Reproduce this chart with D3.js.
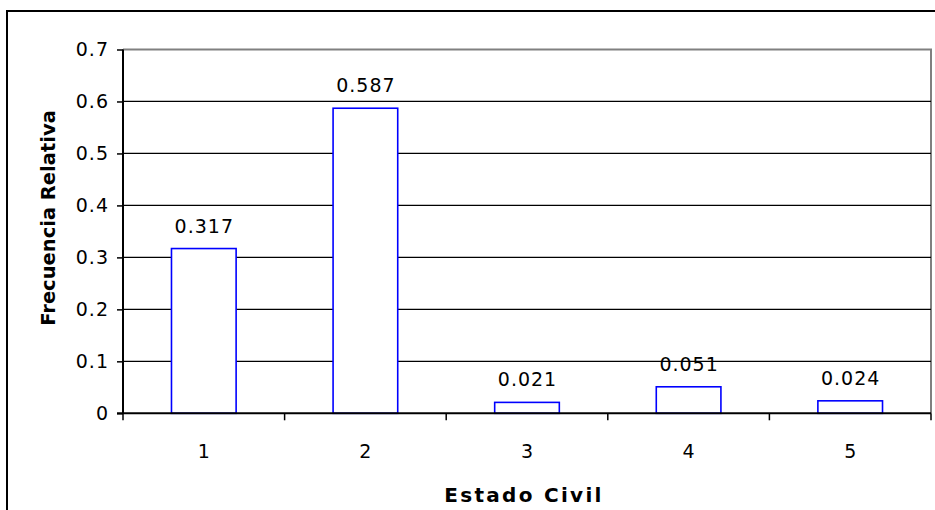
<!DOCTYPE html>
<html>
<head>
<meta charset="utf-8">
<script src="https://cdn.jsdelivr.net/npm/d3@7"></script>
<style>
  html, body { margin: 0; padding: 0; background: #fff; }
  svg { display: block; }
  text { font-family: "DejaVu Sans", Verdana, sans-serif; fill: #000; }
</style>
</head>
<body>
<svg id="chart" width="935" height="510"></svg>
<script>
const categories = ["1", "2", "3", "4", "5"];
const values = [0.317, 0.587, 0.021, 0.051, 0.024];
const valueLabels = ["0.317", "0.587", "0.021", "0.051", "0.024"];
const yTicks = [0, 0.1, 0.2, 0.3, 0.4, 0.5, 0.6, 0.7];
const yTickLabels = ["0", "0.1", "0.2", "0.3", "0.4", "0.5", "0.6", "0.7"];
const xTitle = "Estado Civil";
const yTitle = "Frecuencia Relativa";

(function () {
const svg = d3.select("#chart");
const pL = 123, pR = 931, pT = 49.5, pB = 413.3;

// outer chart border (extends past right/bottom edges)
svg.append("rect")
  .attr("x", 7).attr("y", 11)
  .attr("width", 940).attr("height", 510)
  .attr("fill", "#fff").attr("stroke", "#000").attr("stroke-width", 2);

const x = d3.scaleBand().domain(categories).range([pL, pR]).paddingInner(0).paddingOuter(0);
const y = d3.scaleLinear().domain([0, 0.7]).range([pB, pT]);

// plot area frame (gray top and right)
svg.append("path")
  .attr("d", `M${pL},${pT}H${pR}V${pB}`)
  .attr("fill", "none").attr("stroke", "#808080").attr("stroke-width", 2);

// gridlines
svg.append("g").selectAll("line")
  .data(yTicks.filter(t => t > 0 && t < 0.7))
  .join("line")
  .attr("x1", pL).attr("x2", pR)
  .attr("y1", d => y(d)).attr("y2", d => y(d))
  .attr("stroke", "#000").attr("stroke-width", 1.3);

// bars
const bw = x.bandwidth() * 0.4;
svg.append("g").selectAll("rect")
  .data(values)
  .join("rect")
  .attr("x", (d, i) => x(categories[i]) + x.bandwidth() / 2 - bw / 2)
  .attr("y", d => y(d))
  .attr("width", bw)
  .attr("height", d => y(0) - y(d))
  .attr("fill", "#fff")
  .attr("stroke", "#0000FF")
  .attr("stroke-width", 1.6);

// value labels
svg.append("g").selectAll("text")
  .data(values)
  .join("text")
  .attr("x", (d, i) => x(categories[i]) + x.bandwidth() / 2 + 0.5)
  .attr("y", d => y(d) - 16)
  .attr("text-anchor", "middle")
  .attr("font-size", 19)
  .attr("letter-spacing", 1)
  .text((d, i) => valueLabels[i]);

// y axis
const yAxis = d3.axisLeft(y).tickValues(yTicks)
  .tickFormat((d, i) => yTickLabels[i]).tickSize(6).tickPadding(8);
const gy = svg.append("g").attr("transform", `translate(${pL},0)`).call(yAxis);
gy.select(".domain").attr("stroke", "#000").attr("stroke-width", 2).attr("d", `M0,${pT}V${pB}`);
gy.selectAll(".tick line").attr("stroke", "#000").attr("stroke-width", 1.5);
gy.selectAll(".tick text").attr("font-size", 19).attr("font-family", "DejaVu Sans")
  .attr("letter-spacing", 1).attr("fill", "#000");

// x axis
const xEdges = d3.scaleLinear().domain([0, categories.length]).range([pL, pR]);
const gx = svg.append("g").attr("transform", `translate(0,${pB})`);
gx.append("line").attr("x1", pL - 6).attr("x2", pR).attr("stroke", "#000").attr("stroke-width", 2);
gx.selectAll(".edge").data(d3.range(categories.length + 1)).join("line")
  .attr("class", "edge")
  .attr("x1", d => xEdges(d)).attr("x2", d => xEdges(d))
  .attr("y1", 0).attr("y2", 7)
  .attr("stroke", "#000").attr("stroke-width", 1.5);
gx.selectAll(".lbl").data(categories).join("text")
  .attr("class", "lbl")
  .attr("x", d => x(d) + x.bandwidth() / 2)
  .attr("y", 45)
  .attr("text-anchor", "middle")
  .attr("font-size", 19)
  .text(d => d);

// axis titles
svg.append("text")
  .attr("x", 524).attr("y", 502)
  .attr("text-anchor", "middle")
  .attr("font-size", 20).attr("font-weight", "bold")
  .attr("letter-spacing", 2.3)
  .text(xTitle);

svg.append("text")
  .attr("transform", "translate(55,218) rotate(-90)")
  .attr("text-anchor", "middle")
  .attr("font-size", 19.5).attr("font-weight", "bold")
  .text(yTitle);
})();
</script>
</body>
</html>
